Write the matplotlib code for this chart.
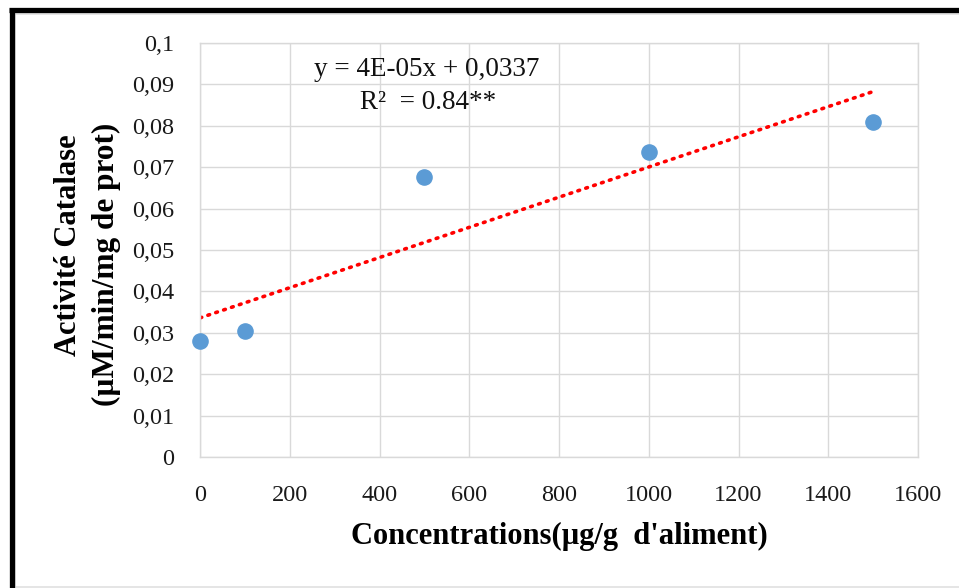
import matplotlib
matplotlib.use('Agg')
import matplotlib.pyplot as plt
from matplotlib.lines import Line2D
import numpy as np

# data
concentrations = [0, 100, 500, 1000, 1500]
catalase = [0.0281, 0.0305, 0.0677, 0.0737, 0.0810]

x_ticks = [0, 200, 400, 600, 800, 1000, 1200, 1400, 1600]
y_ticks = [0, 0.01, 0.02, 0.03, 0.04, 0.05, 0.06, 0.07, 0.08, 0.09, 0.1]
y_tick_labels = ['0', '0,01', '0,02', '0,03', '0,04', '0,05', '0,06', '0,07', '0,08', '0,09', '0,1']

equation = 'y = 4E-05x + 0,0337'
r2_text = 'R²  = 0.84**'

W, H = 959, 588
fig = plt.figure(figsize=(W / 100, H / 100), dpi=100)
ax = fig.add_axes([200 / W, 1 - 457 / H, 718 / W, 414 / H])

serif = 'Liberation Serif'
grid_col = '#D9D9D9'
ax.set_xlim(0, 1600)
ax.set_ylim(0, 0.1)
ax.set_xticks(x_ticks)
ax.set_yticks(y_ticks)
ax.set_yticklabels(y_tick_labels)
ax.grid(True, color=grid_col, lw=1.0)
ax.set_axisbelow(True)
for s in ax.spines.values():
    s.set_color(grid_col)
    s.set_linewidth(1.0)
ax.tick_params(length=0, labelcolor='#1a1a1a')
ax.tick_params(axis='x', pad=20)
ax.tick_params(axis='y', pad=18.5)
for lab in ax.get_xticklabels() + ax.get_yticklabels():
    lab.set_fontfamily(serif)
    lab.set_fontsize(17.5)

# linear trend line (Excel-style, from first to last x)
slope, intercept = np.polyfit(concentrations, catalase, 1)
xs = np.array([concentrations[0], concentrations[-1]])
ax.plot(xs, slope * xs + intercept, color='#FF0000', lw=2.6,
        linestyle=(0, (0.5, 1.8)), dash_capstyle='round', zorder=2)

ax.scatter(concentrations, catalase, s=120, color='#5B9BD5', zorder=3, clip_on=False)

ax.text(506, 0.0935, equation, ha='center', va='center', fontsize=19.5,
        family=serif, color='#111111')
ax.text(508, 0.0857, r2_text, ha='center', va='center', fontsize=19.5,
        family=serif, color='#111111')

fig.text(559 / W, 1 - 536 / H, "Concentrations(µg/g  d'aliment)", ha='center', va='center',
         fontsize=22, fontweight='bold', family=serif)
fig.text(68 / W, 1 - 245 / H, 'Activité Catalase', ha='center', va='center',
         rotation=90, fontsize=22, fontweight='bold', family=serif)
fig.text(106 / W, 1 - 264 / H, '(µM/min/mg de prot)', ha='center', va='center',
         rotation=90, fontsize=22.5, fontweight='bold', family=serif)

# black frame (left/top visible) and thin grey inner border
grey = '#E0E0E0'
fig.add_artist(Line2D([14.8 / W, 14.8 / W], [0, 1 - 14 / H], color=grey, lw=1.2,
                      solid_capstyle='butt'))
fig.add_artist(Line2D([14 / W, 1], [1 - 14.2 / H, 1 - 14.2 / H], color=grey, lw=1.2,
                      solid_capstyle='butt'))
fig.add_artist(Line2D([14 / W, 1], [1 - 586.5 / H, 1 - 586.5 / H], color=grey, lw=1.2,
                      solid_capstyle='butt'))
fig.add_artist(Line2D([11.5 / W, 11.5 / W], [0, 1 - 7.7 / H], color='black', lw=3.8,
                      solid_capstyle='butt'))
fig.add_artist(Line2D([9 / W, 1], [1 - 10.3 / H, 1 - 10.3 / H], color='black', lw=3.8,
                      solid_capstyle='butt'))

fig.savefig('out.png', dpi=100)
